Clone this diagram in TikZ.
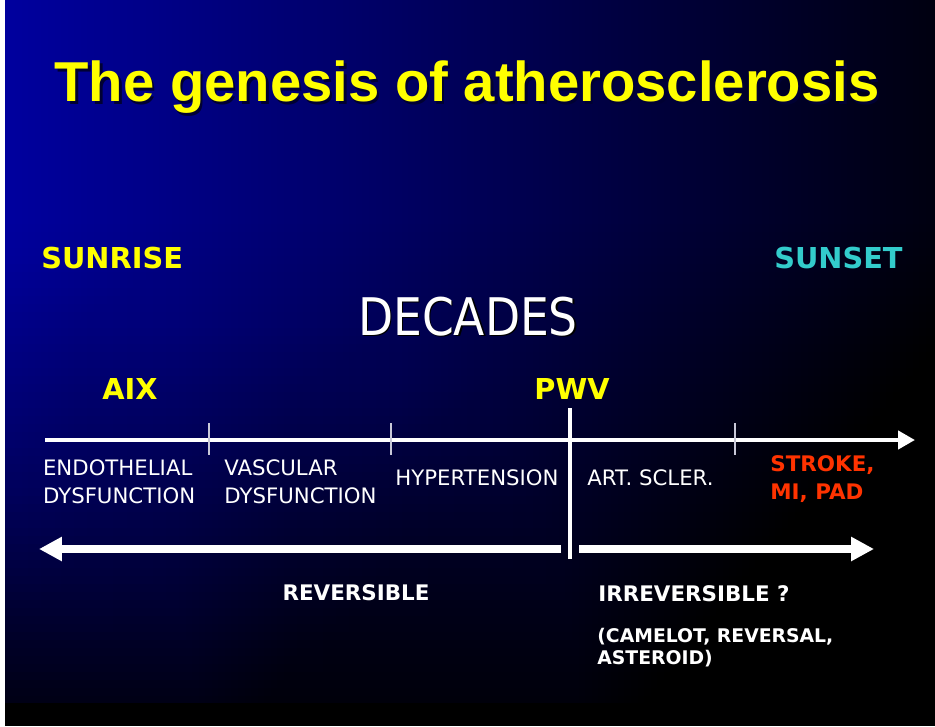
\documentclass[tikz,border=0pt]{standalone}
\usepackage{fontspec}
\setmainfont{DejaVu Sans}
\newfontfamily\titlefont{Liberation Sans}
\usetikzlibrary{arrows.meta}
\definecolor{slideblue}{RGB}{0,0,158}
\definecolor{slidemid}{RGB}{0,0,140}
\definecolor{slidedark}{RGB}{0,0,16}
\definecolor{ttlyel}{HTML}{FFFF00}
\definecolor{sunteal}{HTML}{33CCCC}
\definecolor{redalert}{HTML}{FF3300}
\definecolor{tickgrey}{HTML}{C8C8D8}

\begin{document}
\begin{tikzpicture}[x=0.02cm,y=-0.02cm,
    stage/.style={white,font=\fontsize{12.1}{16.1}\selectfont,inner sep=0,align=left},
    tag/.style={font=\fontsize{16.4}{18}\selectfont\bfseries,inner sep=0},
    verdict/.style={white,font=\fontsize{12.2}{16}\selectfont\bfseries,inner sep=0,align=left},
    fatarrow/.style={white,line width=4pt,-{Triangle[length=13pt,width=13pt]}}]
  \useasboundingbox (0,0) rectangle (935,726);
  \fill[white] (0,0) rectangle (935,726);
  \shade[left color=slideblue,middle color=slidemid,right color=slidedark] (5,0) rectangle (935,703);
  \foreach \y in {216,224,...,696}{
    \pgfmathsetmacro\opa{1-(1-0.8*(max(0,(\y/703-0.3)/0.7))^1.5)/(1-0.8*(max(0,((\y-8)/703-0.3)/0.7))^1.5)}
    \fill[black,fill opacity=\opa] (5,\y) rectangle (935,703);}
  \fill[black] (5,703) rectangle (935,726);

  \node[black!80!blue,font=\titlefont\fontsize{32}{36}\selectfont\bfseries,anchor=base] (titleshadow) at (469.5,104.5) {The genesis of atherosclerosis};
  \node[ttlyel,font=\titlefont\fontsize{32}{36}\selectfont\bfseries,anchor=base] (title) at (467,102) {The genesis of atherosclerosis};

  \node[tag,ttlyel,anchor=base west] (sunrise) at (41,268) {SUNRISE};
  \node[tag,sunteal,anchor=base east] (sunset) at (903,268) {SUNSET};
  \node[black,font=\fontsize{29.5}{32}\selectfont,xscale=.88,anchor=base,inner sep=0] (decshadow) at (469.5,336.5) {DECADES};
  \node[white,font=\fontsize{29.5}{32}\selectfont,xscale=.88,anchor=base,inner sep=0] (decades) at (468,335) {DECADES};
  \node[tag,ttlyel,anchor=base] (aix) at (130,399) {AIX};
  \node[tag,ttlyel,anchor=base] (pwv) at (572,399) {PWV};

  \coordinate (axisL) at (45,440);
  \coordinate (axisR) at (915,440);
  \draw[white,line width=2.3pt,-{Triangle[length=9.6pt,width=10.2pt]}] (axisL) -- (axisR);
  \foreach \x in {209,391,735}
    \draw[tickgrey,line width=0.6pt] (\x,423) -- (\x,455);
  \coordinate (cutT) at (570,408);
  \coordinate (cutB) at (570,559);
  \draw[white,line width=2.5pt] (cutT) -- (cutB);

  \node[stage,anchor=north west] (endo) at (42.7,459.5) {ENDOTHELIAL\\DYSFUNCTION};
  \node[stage,anchor=north west] (vasc) at (224,459.5) {VASCULAR\\DYSFUNCTION};
  \node[stage,anchor=base west] (hyper) at (395,485) {HYPERTENSION};
  \node[stage,anchor=base west] (artscl) at (587,485) {ART. SCLER.};
  \node[verdict,redalert,font=\fontsize{12.2}{15.9}\selectfont\bfseries,anchor=north west] (events) at (770,455) {STROKE,\\MI, PAD};

  \coordinate (revR) at (561,549);
  \coordinate (revL) at (39,549);
  \draw[fatarrow] (revR) -- (revL);
  \coordinate (irrL) at (579,549);
  \coordinate (irrR) at (874,549);
  \draw[fatarrow] (irrL) -- (irrR);

  \node[verdict,anchor=base] (rev) at (356,600) {REVERSIBLE};
  \node[verdict,anchor=base west] (irrev) at (598,601) {IRREVERSIBLE ?};
  \node[verdict,font=\fontsize{10.7}{12.7}\selectfont\bfseries,anchor=north west] (trials) at (597,627.5) {(CAMELOT, REVERSAL,\\ASTEROID)};
\end{tikzpicture}
\end{document}
